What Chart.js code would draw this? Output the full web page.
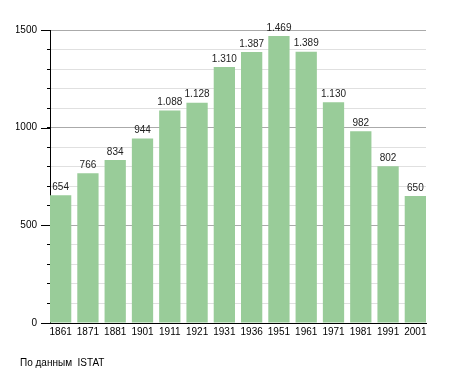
<!DOCTYPE html>
<html>
<head>
<meta charset="utf-8">
<script src="https://cdn.jsdelivr.net/npm/chart.js@4/dist/chart.umd.min.js"></script>
<style>
  html, body { margin: 0; padding: 0; background: #fff; }
  #wrap { position: relative; width: 455px; height: 373px; }
  #footer { position: absolute; left: 20px; top: 357px; font: 10px "Liberation Sans", Arial, sans-serif; color: #000; white-space: pre; }
</style>
</head>
<body>
<div id="wrap">
  <canvas id="c" width="455" height="373"></canvas>
  <div id="footer">По данным  ISTAT</div>
</div>
<script>
const years = ['1861','1871','1881','1901','1911','1921','1931','1936','1951','1961','1971','1981','1991','2001'];
const population = [654, 766, 834, 944, 1088, 1128, 1310, 1387, 1469, 1389, 1130, 982, 802, 650];
const yMajorTicks = [0, 500, 1000, 1500];
const yMinorStep = 100;
const yMax = 1500;

const FONT = '"Liberation Sans", Arial, sans-serif';

function fmt(v) {
  return String(v).replace(/\B(?=(\d{3})+(?!\d))/g, '.');
}

const valueLabels = {
  id: 'valueLabels',
  afterDatasetsDraw(chart) {
    const ctx = chart.ctx;
    const meta = chart.getDatasetMeta(0);
    ctx.save();
    ctx.font = '10px ' + FONT;
    ctx.fillStyle = '#222';
    ctx.textAlign = 'center';
    ctx.textBaseline = 'bottom';
    meta.data.forEach((el, i) => {
      ctx.fillText(fmt(population[i]), el.x, el.y - 3);
    });
    ctx.restore();
  }
};

const majorTicks = {
  id: 'majorTicks',
  afterDraw(chart) {
    const ctx = chart.ctx;
    const y = chart.scales.y;
    const left = chart.chartArea.left;
    ctx.save();
    ctx.strokeStyle = '#000';
    ctx.lineWidth = 1;
    yMajorTicks.forEach(v => {
      const py = Math.round(y.getPixelForValue(v)) + 0.5;
      ctx.beginPath();
      ctx.moveTo(left - 9, py);
      ctx.lineTo(left, py);
      ctx.stroke();
    });
    ctx.restore();
  }
};

new Chart(document.getElementById('c'), {
  type: 'bar',
  data: {
    datasets: [{
      data: population.map((v, i) => ({ x: i, y: v })),
      backgroundColor: 'rgb(153,204,153)',
      borderWidth: 0,
      categoryPercentage: 1,
      barPercentage: 0.78
    }]
  },
  options: {
    responsive: false,
    animation: false,
    devicePixelRatio: 1,
    layout: { padding: { left: 16, right: 29, top: 30, bottom: 25 } },
    plugins: { legend: { display: false }, tooltip: { enabled: false }, title: { display: false } },
    scales: {
      x: {
        type: 'linear',
        min: -0.39,
        max: 13.39,
        offset: false,
        afterFit: s => { s.paddingLeft = 0; s.paddingRight = 0; s.height = 25; },
        grid: { display: false, offset: false, drawTicks: false },
        border: { display: true, color: '#000', width: 1 },
        ticks: {
          stepSize: 1,
          includeBounds: false,
          autoSkip: false,
          maxRotation: 0,
          padding: 3,
          color: '#000',
          font: { family: FONT, size: 10 },
          callback: v => Number.isInteger(v) ? years[v] : ''
        }
      },
      y: {
        min: 0,
        max: yMax,
        afterFit: s => { s.width = 34; s.paddingTop = 0; s.paddingBottom = 0; },
        grid: {
          color: ctx => (ctx.tick && ctx.tick.value % 500 === 0) ? '#aaaaaa' : '#e0e0e0',
          tickColor: '#000',
          tickLength: 3,
          drawTicks: true
        },
        border: { display: true, color: '#000', width: 1 },
        ticks: {
          stepSize: yMinorStep,
          autoSkip: false,
          padding: 10,
          color: '#000',
          font: { family: FONT, size: 10 },
          callback: v => yMajorTicks.includes(v) ? String(v) : ''
        }
      }
    }
  },
  plugins: [valueLabels, majorTicks]
});
</script>
</body>
</html>
